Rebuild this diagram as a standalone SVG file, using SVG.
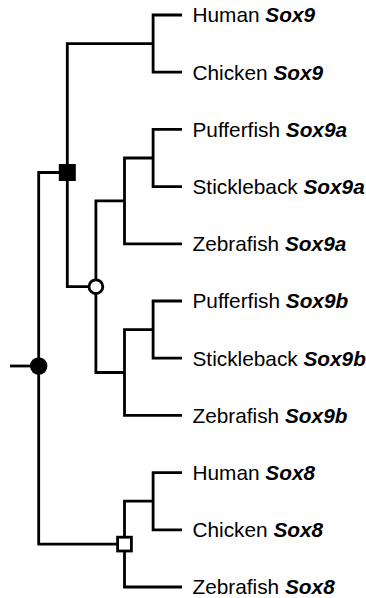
<svg xmlns="http://www.w3.org/2000/svg" width="366" height="598" viewBox="0 0 366 598">
<style>
.e{fill:none;stroke:#000;stroke-width:2.8;stroke-linejoin:miter}
.t{font-family:"Liberation Sans",Arial,Helvetica,sans-serif;font-size:20.8px;fill:#000}
.g{font-weight:bold;font-style:italic}
.mk{stroke:#000;stroke-width:2.8}
</style>
<rect width="366" height="598" fill="#fff"/>
<g id="connectors">
<path class="e" d="M10,366 H38.7"/>
<path class="e" d="M67.3,172.5 H38.7 V544.1 H124.5"/>
<path class="e" d="M153.1,43.6 H67.3 V286.7 H95.9"/>
<path class="e" d="M182,15 H153.1 V72.2 H182"/>
<path class="e" d="M124.5,200.9 H95.9 V372.5 H124.5"/>
<path class="e" d="M153.1,158 H124.5 V243.8 H182"/>
<path class="e" d="M182,129.4 H153.1 V186.6 H182"/>
<path class="e" d="M153.1,329.6 H124.5 V415.4 H182"/>
<path class="e" d="M182,301 H153.1 V358.2 H182"/>
<path class="e" d="M153.1,501.2 H124.5 V587 H182"/>
<path class="e" d="M182,472.6 H153.1 V529.8 H182"/>
</g>
<g id="root-node"><circle cx="38.7" cy="366" r="8.7" fill="#000"/></g>
<g id="sox9-node"><rect x="58.8" y="164" width="17" height="17" fill="#000"/></g>
<g id="teleost-node"><circle class="mk" cx="95.9" cy="286.7" r="6.9" fill="#fff"/></g>
<g id="sox8-node"><rect class="mk" x="117.6" y="537.2" width="13.8" height="13.8" fill="#fff"/></g>
<g id="leaf-human-sox9"><text class="t" x="192.5" y="22.4">Human <tspan class="g">Sox9</tspan></text></g>
<g id="leaf-chicken-sox9"><text class="t" x="192.5" y="79.6">Chicken <tspan class="g">Sox9</tspan></text></g>
<g id="leaf-pufferfish-sox9a"><text class="t" x="192.5" y="136.8">Pufferfish <tspan class="g">Sox9a</tspan></text></g>
<g id="leaf-stickleback-sox9a"><text class="t" x="192.5" y="194">Stickleback <tspan class="g">Sox9a</tspan></text></g>
<g id="leaf-zebrafish-sox9a"><text class="t" x="192.5" y="251.2">Zebrafish <tspan class="g">Sox9a</tspan></text></g>
<g id="leaf-pufferfish-sox9b"><text class="t" x="192.5" y="308.4">Pufferfish <tspan class="g">Sox9b</tspan></text></g>
<g id="leaf-stickleback-sox9b"><text class="t" x="192.5" y="365.6">Stickleback <tspan class="g">Sox9b</tspan></text></g>
<g id="leaf-zebrafish-sox9b"><text class="t" x="192.5" y="422.8">Zebrafish <tspan class="g">Sox9b</tspan></text></g>
<g id="leaf-human-sox8"><text class="t" x="192.5" y="480">Human <tspan class="g">Sox8</tspan></text></g>
<g id="leaf-chicken-sox8"><text class="t" x="192.5" y="537.2">Chicken <tspan class="g">Sox8</tspan></text></g>
<g id="leaf-zebrafish-sox8"><text class="t" x="192.5" y="594.4">Zebrafish <tspan class="g">Sox8</tspan></text></g>
</svg>
